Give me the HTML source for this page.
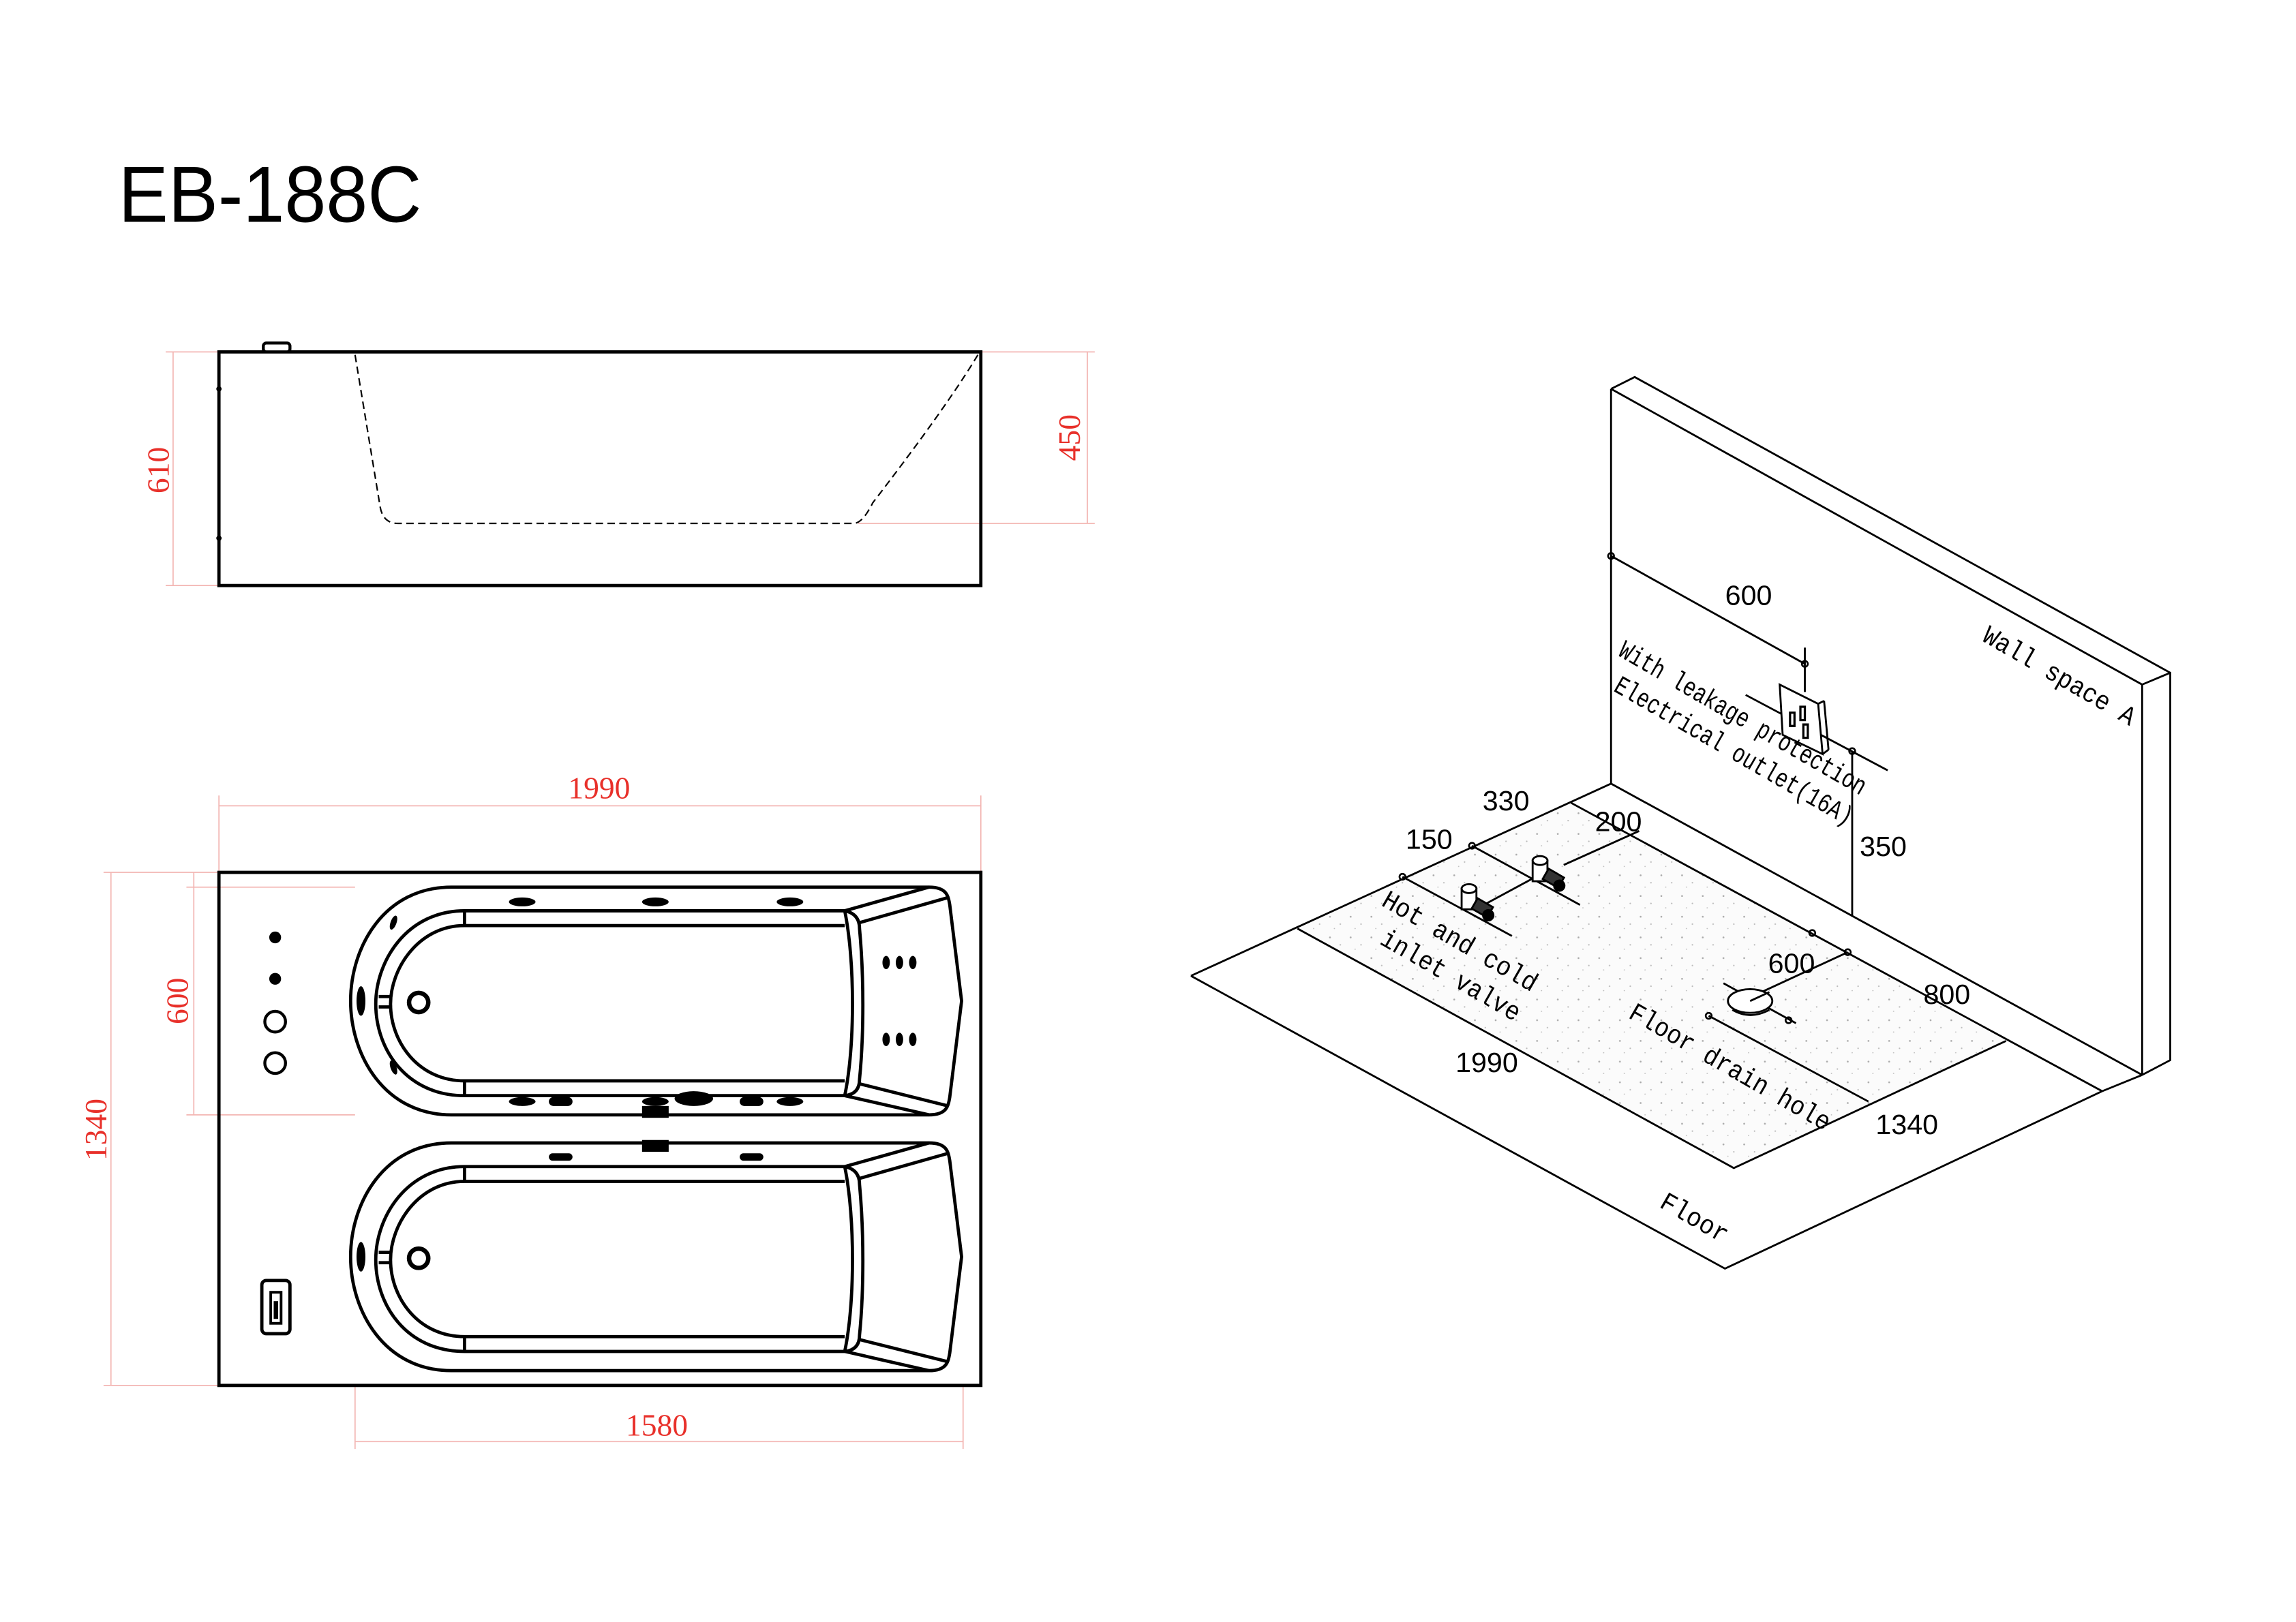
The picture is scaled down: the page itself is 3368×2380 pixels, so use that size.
<!DOCTYPE html>
<html><head><meta charset="utf-8"><style>
html,body{margin:0;padding:0;background:#fff;}
svg{display:block;}
.r{fill:#e8302a;font-family:"Liberation Serif",serif;font-size:21px;}
.d{font-family:"Liberation Sans",sans-serif;font-size:19px;fill:#000;}
.m{font-family:"Liberation Mono",monospace;font-size:18px;fill:#000;}
</style></head><body>
<svg width="3368" height="2380" viewBox="0 0 1552 1097" preserveAspectRatio="none" xmlns="http://www.w3.org/2000/svg">
<defs>
<pattern id="dots" width="14" height="14" patternUnits="userSpaceOnUse">
<rect width="14" height="14" fill="#fbfbfb"/>
<circle cx="3" cy="4" r="0.6" fill="#aaa"/><circle cx="10" cy="9" r="0.5" fill="#bbb"/><circle cx="6" cy="12" r="0.4" fill="#bbb"/>
</pattern>
</defs>
<text x="80" y="150" font-family="Liberation Sans,sans-serif" font-size="54" textLength="205" lengthAdjust="spacingAndGlyphs">EB-188C</text>

<!-- side view -->
<g stroke="#f3b6b3" stroke-width="0.8" fill="none">
<line x1="112" y1="238" x2="148" y2="238"/><line x1="112" y1="396" x2="148" y2="396"/>
<line x1="117" y1="238" x2="117" y2="396"/>
<line x1="663" y1="238" x2="740" y2="238"/><line x1="580" y1="354" x2="740" y2="354"/>
<line x1="735" y1="238" x2="735" y2="354"/>
</g>
<text class="r" transform="translate(114,318) rotate(-90)" text-anchor="middle">610</text>
<text class="r" transform="translate(730,296) rotate(-90)" text-anchor="middle">450</text>
<rect x="148" y="238" width="515" height="158" fill="none" stroke="#000" stroke-width="2.2"/>
<rect x="178" y="232" width="18" height="6" rx="2" fill="#fff" stroke="#000" stroke-width="2"/>
<path d="M240,240 L257,343 Q259,354 269,354 L577,354 Q583,354 590,340 Q640,275 661,240" fill="none" stroke="#000" stroke-width="1" stroke-dasharray="5,3"/>
<circle cx="148" cy="263" r="1.8"/><circle cx="148" cy="364" r="1.8"/>

<!-- top view dims -->
<g stroke="#f3b6b3" stroke-width="0.8" fill="none">
<line x1="148" y1="538" x2="148" y2="590"/><line x1="663" y1="538" x2="663" y2="590"/>
<line x1="148" y1="545" x2="663" y2="545"/>
<line x1="70" y1="590" x2="148" y2="590"/><line x1="70" y1="937" x2="148" y2="937"/>
<line x1="75" y1="590" x2="75" y2="937"/>
<line x1="126" y1="600" x2="240" y2="600"/><line x1="126" y1="754" x2="240" y2="754"/>
<line x1="131" y1="590" x2="131" y2="754"/>
<line x1="240" y1="937" x2="240" y2="980"/><line x1="651" y1="937" x2="651" y2="980"/>
<line x1="240" y1="975" x2="651" y2="975"/>
</g>
<text class="r" x="405" y="540" text-anchor="middle">1990</text>
<text class="r" transform="translate(72,764) rotate(-90)" text-anchor="middle">1340</text>
<text class="r" transform="translate(127,677) rotate(-90)" text-anchor="middle">600</text>
<text class="r" x="444" y="971" text-anchor="middle">1580</text>
<rect x="148" y="590" width="515" height="347" fill="none" stroke="#000" stroke-width="2.2"/>
<circle cx="186" cy="634" r="4"/><circle cx="186" cy="662" r="4"/>
<circle cx="186" cy="691" r="7" fill="none" stroke="#000" stroke-width="2"/>
<circle cx="186" cy="719" r="7" fill="none" stroke="#000" stroke-width="2"/>
<rect x="177" y="866" width="19" height="36" rx="3" fill="none" stroke="#000" stroke-width="2.2"/>
<rect x="183" y="874" width="7" height="21" fill="none" stroke="#000" stroke-width="1.8"/>
<rect x="185" y="880" width="3" height="12"/>

<g id="tub" fill="none" stroke="#000" stroke-width="2.2">
<path d="M305,600 C260,600 237,640 237,677 C237,714 260,754 305,754 L628,754 C640,754 641,748 642,742 L650,677 L642,612 C641,606 640,600 628,600 Z"/>
<path d="M571,616 L314,616 C275,616 254,650 254,679 C254,710 275,741 314,741 L571,741"/>
<path d="M571,626 L314,626 C283,626 264,655 264,679 C264,705 283,731 314,731 L571,731"/>
<line x1="314" y1="616" x2="314" y2="626"/><line x1="314" y1="731" x2="314" y2="741"/>
<path d="M571,616 C578,650 578,708 571,741"/>
<path d="M571,616 Q581,618 581,628 C584,660 584,700 581,730 Q581,740 571,741"/>
<line x1="571" y1="616" x2="628" y2="600"/><line x1="581" y1="624" x2="641" y2="607"/>
<line x1="581" y1="733" x2="641" y2="748"/><line x1="571" y1="741" x2="628" y2="754"/>
<circle cx="283" cy="678" r="6.5" stroke-width="3"/>
<line x1="256" y1="674" x2="265" y2="674"/><line x1="256" y1="681" x2="265" y2="681"/>
</g>
<g>
<ellipse cx="244" cy="677" rx="3" ry="10"/>
<ellipse cx="266" cy="624" rx="2" ry="5" transform="rotate(20 266 624)"/>
<ellipse cx="266" cy="722" rx="2" ry="5" transform="rotate(-20 266 722)"/>
<ellipse cx="353" cy="610" rx="9" ry="3"/><ellipse cx="443" cy="610" rx="9" ry="3"/><ellipse cx="534" cy="610" rx="9" ry="3"/>
<ellipse cx="599" cy="651" rx="2.5" ry="4.5"/><ellipse cx="608" cy="651" rx="2.5" ry="4.5"/><ellipse cx="617" cy="651" rx="2.5" ry="4.5"/>
<ellipse cx="599" cy="703" rx="2.5" ry="4.5"/><ellipse cx="608" cy="703" rx="2.5" ry="4.5"/><ellipse cx="617" cy="703" rx="2.5" ry="4.5"/>
</g>
<ellipse cx="353" cy="745" rx="9" ry="3"/><rect x="371" y="742" width="16" height="6" rx="3"/>
<ellipse cx="443" cy="745" rx="9" ry="3"/><ellipse cx="469" cy="743" rx="13" ry="5"/>
<rect x="500" y="742" width="16" height="6" rx="3"/><ellipse cx="534" cy="745" rx="9" ry="3"/>
<rect x="434" y="748" width="18" height="8"/>

<g transform="translate(0,173)">
<use href="#tub"/>
<ellipse cx="244" cy="677" rx="3" ry="10"/>
</g>
<rect x="434" y="771" width="18" height="8"/>
<rect x="371" y="780" width="16" height="5" rx="2.5"/><rect x="500" y="780" width="16" height="5" rx="2.5"/>

<!-- isometric -->
<polygon points="877,628 1062,543 1356,704 1172,790" fill="url(#dots)"/>
<g fill="none" stroke="#000" stroke-width="1.3">
<polyline points="805,660 1089,530 1448,727"/>
<line x1="1062" y1="543" x2="1421" y2="738"/>
<line x1="1421" y1="738" x2="1448" y2="727"/>
<polyline points="1421,738 1166,858 805,660"/>
<polyline points="877,628 1172,790 1356,704"/>
<line x1="1089" y1="530" x2="1089" y2="263"/>
<polyline points="1089,263 1105,255 1467,455 1467,717 1448,727"/>
<polyline points="1089,263 1448,463 1448,727"/>
<line x1="1448" y1="463" x2="1467" y2="455"/>
<!-- outlet dims -->
<line x1="1089" y1="376" x2="1220" y2="449"/>
<line x1="1220" y1="438" x2="1220" y2="468"/>
<line x1="1180" y1="470" x2="1276" y2="521"/>
<line x1="1252" y1="508" x2="1252" y2="619"/>
<polygon points="1203,463 1229,476 1232,510 1205,497" fill="#fff"/>
<line x1="1229" y1="476" x2="1233" y2="474"/><line x1="1233" y1="474" x2="1236" y2="507"/><line x1="1232" y1="510" x2="1236" y2="507"/>
<!-- valve dims -->
<line x1="948" y1="593" x2="1022" y2="633"/>
<line x1="995" y1="572" x2="1068" y2="612"/>
<line x1="1003" y1="612" x2="1040" y2="592"/>
<line x1="1057" y1="585" x2="1108" y2="562"/>
<!-- drain dims -->
<line x1="1155" y1="687" x2="1263" y2="745"/>
<line x1="1182" y1="675" x2="1249" y2="644"/>
<line x1="1165" y1="665" x2="1214" y2="692"/>
<ellipse cx="1183" cy="677" rx="15" ry="8" fill="#fff"/>
<path d="M1171,683 Q1183,690 1196,683"/>
<line x1="1183" y1="677" x2="1196" y2="671"/>
</g>
<g fill="none" stroke="#000" stroke-width="1.2">
<circle cx="1089" cy="376" r="2"/><circle cx="1220" cy="449" r="2"/><circle cx="1252" cy="508" r="2"/>
<circle cx="948" cy="593" r="2"/><circle cx="995" cy="572" r="2"/>
<circle cx="1225" cy="631" r="2"/><circle cx="1249" cy="644" r="2"/>
<circle cx="1155" cy="687" r="2"/><circle cx="1209" cy="690" r="2"/>
</g>
<g stroke="#000" stroke-width="1.5" fill="none">
<rect x="1210" y="482" width="3" height="9"/><rect x="1217" y="478" width="3" height="9"/><rect x="1219" y="490" width="3" height="9"/>
</g>
<!-- valves -->
<g fill="#fff" stroke="#000" stroke-width="1.3">
<rect x="988" y="601" width="10" height="14"/><ellipse cx="993" cy="601" rx="5" ry="3"/>
<rect x="996" y="610" width="12" height="8" transform="rotate(30 1002 614)" fill="#333"/>
<circle cx="1006" cy="619" r="3.5" fill="#000"/>
<rect x="1036" y="582" width="10" height="14"/><ellipse cx="1041" cy="582" rx="5" ry="3"/>
<rect x="1044" y="590" width="12" height="8" transform="rotate(30 1050 594)" fill="#333"/>
<circle cx="1054" cy="599" r="3.5" fill="#000"/>
</g>

<text class="d" x="1182" y="409" text-anchor="middle">600</text>
<text class="d" x="1018" y="548" text-anchor="middle">330</text>
<text class="d" x="1094" y="562" text-anchor="middle">200</text>
<text class="d" x="966" y="574" text-anchor="middle">150</text>
<text class="d" x="1273" y="579" text-anchor="middle">350</text>
<text class="d" x="1211" y="658" text-anchor="middle">600</text>
<text class="d" x="1316" y="679" text-anchor="middle">800</text>
<text class="d" x="1005" y="725" text-anchor="middle">1990</text>
<text class="d" x="1289" y="767" text-anchor="middle">1340</text>
<text class="m" transform="translate(1339,433) rotate(30)" textLength="116" lengthAdjust="spacingAndGlyphs">Wall space A</text>
<text class="m" transform="translate(1093,443) rotate(30)" textLength="190" lengthAdjust="spacingAndGlyphs">With leakage protection</text>
<text class="m" transform="translate(1090,467) rotate(30)" textLength="183" lengthAdjust="spacingAndGlyphs">Electrical outlet(16A)</text>
<text class="m" transform="translate(933,612) rotate(30)" textLength="118" lengthAdjust="spacingAndGlyphs">Hot and cold</text>
<text class="m" transform="translate(932,638) rotate(30)" textLength="106" lengthAdjust="spacingAndGlyphs">inlet valve</text>
<text class="m" transform="translate(1100,688) rotate(30)" textLength="154" lengthAdjust="spacingAndGlyphs">Floor drain hole</text>
<text class="m" transform="translate(1121,816) rotate(30)" textLength="50" lengthAdjust="spacingAndGlyphs">Floor</text>
</svg>
</body></html>
